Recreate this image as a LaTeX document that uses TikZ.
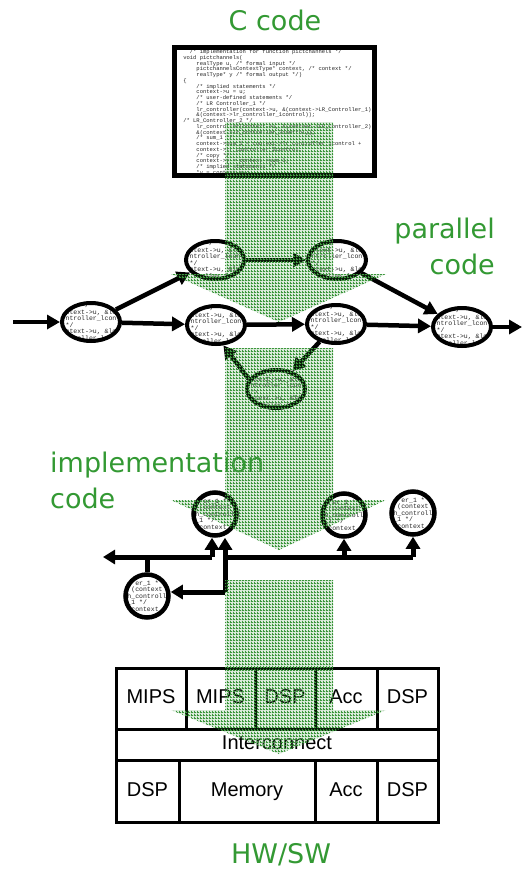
\documentclass[tikz,border=0pt]{standalone}
\usepackage{fontspec}
\setmainfont{DejaVu Sans}
\newfontfamily\boxfont{Liberation Sans}
\newfontfamily\srcfont{Liberation Mono}
\usetikzlibrary{arrows.meta,shapes.geometric,patterns.meta}

\definecolor{labelgreen}{RGB}{51,153,51}
\definecolor{washgreen}{RGB}{60,150,60}

% fine green mesh used for the refinement arrows
\tikzdeclarepattern{
  name=finegrid,
  type=uncolored,
  bounding box={(0pt,0pt) and (2.5pt,2.5pt)},
  tile size={(2.5pt,2.5pt)},
  code={
    \pgfpathrectangle{\pgfpoint{0pt}{0pt}}{\pgfpoint{2.5pt}{0.9pt}}
    \pgfpathrectangle{\pgfpoint{0pt}{0pt}}{\pgfpoint{0.9pt}{2.5pt}}
    \pgfusepath{fill}
  }
}

% code fragments shown inside the process nodes
\newcommand{\tasksnippet}{~~~~*/\\ntext->u, \&lo\\ntroller\_lcon\\*/\\ntext->u, \&lo\\ntroller\_lcon}
\newcommand{\implsnippet}{~~er\_1 *\\~(context\\h\_controll\\\_1 */\\~context}

\begin{document}
\begin{tikzpicture}[
        x=1pt, y=-1pt,
        snippet/.style={font=\srcfont\fontsize{6.5}{6.6}\selectfont, align=left, inner sep=0pt, text=black!85},
        task/.style={ellipse, draw, fill=white, line width=4pt, minimum width=58pt, minimum height=38pt, inner sep=0pt,
            path picture={\node[snippet] at (path picture bounding box.center) {\tasksnippet};}},
        impl/.style={circle, draw, fill=white, line width=4.5pt, minimum size=43pt, inner sep=0pt,
            path picture={\node[snippet] at (path picture bounding box.center) {\implsnippet};}},
        flow/.style={line width=4.5pt, -{Triangle[length=13pt,width=14pt]}},
        bus/.style={line width=5pt},
        busarrow/.style={line width=5pt, -{Triangle[length=12pt,width=14pt]}},
        hwcell/.style={draw, line width=3pt, font=\boxfont\fontsize{20}{24}\selectfont, inner sep=0pt,
            text height=14.5pt, text depth=4pt},
        greenlabel/.style={text=labelgreen, font=\fontsize{27}{36}\selectfont, inner sep=0pt},
        wash/.style={preaction={fill=washgreen, fill opacity=0.18}, pattern=finegrid, pattern color=washgreen}
    ]
        \useasboundingbox (0,0) rectangle (532,870);

        % Source program
        \node[greenlabel, anchor=base] (ctitle) at (275,30) {C code};
        \node[draw, line width=5pt, fill=white, minimum width=200pt, minimum height=128pt, inner sep=0pt,
            path picture={\node[anchor=north west, inner sep=0pt, text=black!85, font=\srcfont\fontsize{5.5}{5.75}\selectfont, align=left]
                at ([xshift=2pt,yshift=1.5pt]path picture bounding box.north west) {%
~~/* implementation for function pictchannels */\\
void pictchannels(\\
~~~~realType u, /* formal input */\\
~~~~pictchannelsContextType* context, /* context */\\
~~~~realType* y /* formal output */)\\
\{\\
~~~~/* implied statements */\\
~~~~context->u = u;\\
~~~~/* user-defined statements */\\
~~~~/* LR Controller\_1 */\\
~~~~lr\_controller(context->u, \&(context->LR\_Controller\_1),\\
~~~~\&(context->lr\_controller\_1control));\\
/* LR\_Controller\_2 */\\
~~~~lr\_controller(context->u, \&(context->LR\_Controller\_2),\\
~~~~\&(context->lr\_controller\_2control));\\
~~~~/* sum\_1 */\\
~~~~context->sum\_1 = context->lr\_controller\_1control +\\
~~~~context->lr\_controller\_2control;\\
~~~~/* copy */\\
~~~~context->y = context->sum\_1;\\
~~~~/* implied statements */\\
~~~~*y = context->y;};}] (csource) at (274.5,111.5) {};

        % Parallel code: process network
        \node[greenlabel, align=right, anchor=north east] (partitle) at (495,218) {parallel\\code};
        \node[task] (e1) at (91,322) {};
        \node[task] (e2) at (215,260) {};
        \node[task] (e3) at (337,260) {};
        \node[task] (e4) at (216,325) {};
        \node[task] (e5) at (336,324) {};
        \node[task] (e6) at (462,327) {};
        \node[task] (e7) at (276,389) {};
        \coordinate (netin) at (13,322);
        \coordinate (netout) at (522,327);

        \draw[flow] (netin) -- (e1);
        \draw[flow] (e1) -- (e2);
        \draw[flow] (e1) -- (e4);
        \draw[flow] (e2) -- (e3);
        \draw[flow] (e3) -- (e6);
        \draw[flow] (e4) -- (e5);
        \draw[flow] (e5) -- (e6);
        \draw[flow] (e6) -- (netout);
        \draw[flow] (e5) -- (e7);
        \draw[flow] (e7.160) -- (e4.-70);

        % Implementation code: mapped tasks and buses
        \node[greenlabel, align=left, anchor=north west] (impltitle) at (50,452) {implementation\\code};
        \node[impl] (c1) at (215,514) {};
        \node[impl] (c2) at (344,515) {};
        \node[impl] (c3) at (413,513) {};
        \node[impl] (c4) at (147,596) {};
        \coordinate (lout) at (103,557);
        \coordinate (ljoin) at (212,557);
        \coordinate (rjoin) at (225,557);
        \coordinate (rdrop) at (225,592);

        \draw[busarrow] (ljoin) -- (lout);
        \draw[bus] (c4.north) -- (c4.north |- lout);
        \draw[busarrow] (ljoin) -- (ljoin |- c1.south);
        \draw[bus] (rdrop) -- (rjoin) -- (c3 |- rjoin);
        \draw[busarrow] (rjoin) -- (rjoin |- c1.south);
        \draw[busarrow] (c2 |- rjoin) -- (c2.south);
        \draw[busarrow] (c3 |- rjoin) -- (c3.south);
        \draw[busarrow] (rdrop) -- (rdrop -| c4.east);

        % Target platform
        \node[hwcell, minimum width=70pt, minimum height=61pt] (mips1) at (151,698.5) {MIPS};
        \node[hwcell, minimum width=69pt, minimum height=61pt] (mips2) at (220.5,698.5) {MIPS};
        \node[hwcell, minimum width=60pt, minimum height=61pt] (dsp1) at (285,698.5) {DSP};
        \node[hwcell, minimum width=62pt, minimum height=61pt] (acc1) at (346,698.5) {Acc};
        \node[hwcell, minimum width=61pt, minimum height=61pt] (dsp2) at (407.5,698.5) {DSP};
        \node[hwcell, minimum width=322pt, minimum height=31pt] (icn) at (277,744.5) {Interconnect};
        \node[hwcell, minimum width=63pt, minimum height=62pt] (dsp3) at (147.5,791) {DSP};
        \node[hwcell, minimum width=136pt, minimum height=62pt] (mem) at (247,791) {Memory};
        \node[hwcell, minimum width=62pt, minimum height=62pt] (acc2) at (346,791) {Acc};
        \node[hwcell, minimum width=61pt, minimum height=62pt] (dsp4) at (407.5,791) {DSP};
        \node[greenlabel, anchor=base] (hwtitle) at (281,863) {HW/SW};

        % Refinement steps, laid over everything
        \foreach \ytop/\yneck/\ytip in {122/274/322, 348/500/550, 580/710/754}
            \fill[wash] (225,\ytop) -- (333,\ytop) -- (333,\yneck) -- (386,\yneck) -- (279,\ytip)
                -- (171,\yneck) -- (225,\yneck) -- cycle;
\end{tikzpicture}
\end{document}
